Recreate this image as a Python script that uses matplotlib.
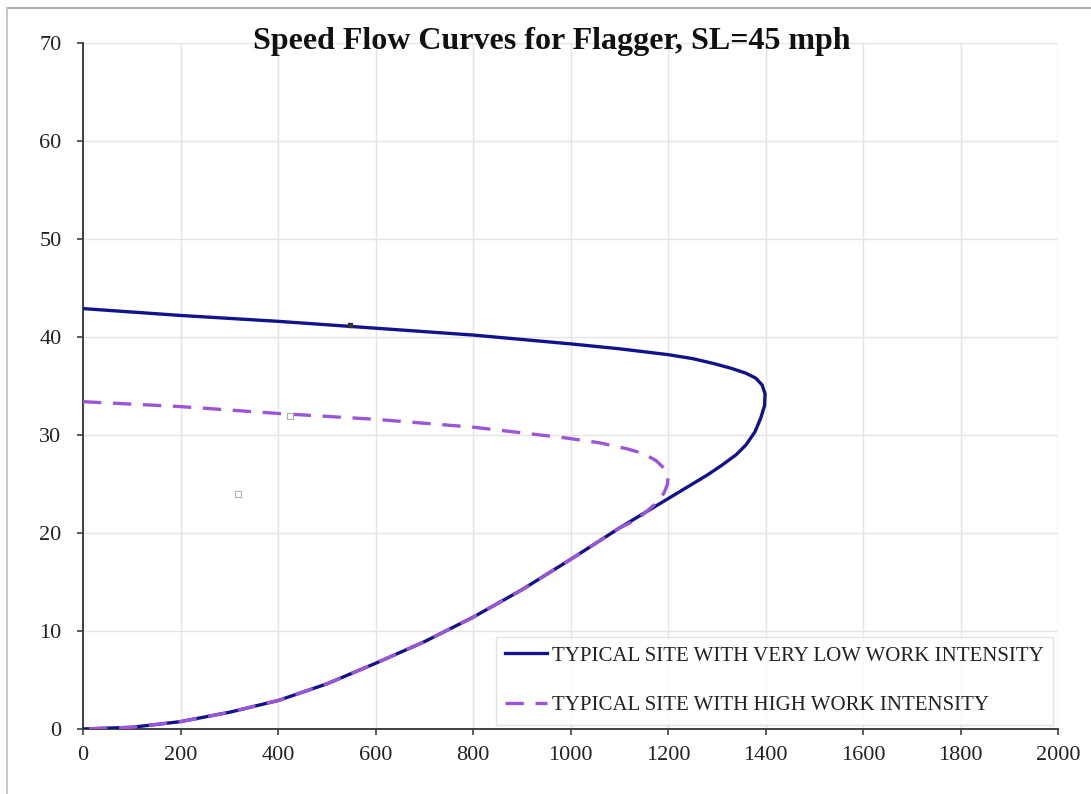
import matplotlib
matplotlib.use('Agg')
from matplotlib import pyplot as plt
from matplotlib.lines import Line2D

# flow (veh/h/ln) and speed (mph), read along each curve from free-flow end,
# around the capacity nose and back down the congested branch
low_flow = [0, 200, 400, 600, 800, 1000, 1100, 1200, 1250, 1293, 1330, 1360, 1380,
            1393, 1399, 1398, 1390, 1378, 1360, 1340, 1310, 1280, 1250, 1200, 1150,
            1100, 1047, 1000, 900, 800, 700, 600, 500, 400, 300, 200, 100, 0]
low_speed = [42.9, 42.2, 41.6, 40.9, 40.2, 39.3, 38.8, 38.2, 37.8, 37.3, 36.8, 36.3, 35.8,
             35.1, 34.2, 33.0, 31.7, 30.3, 29.0, 28.0, 26.9, 25.9, 25.0, 23.5, 22.0,
             20.5, 18.8, 17.3, 14.2, 11.4, 8.9, 6.7, 4.6, 2.9, 1.7, 0.75, 0.17, 0]

high_flow = [0, 200, 400, 600, 800, 990, 1060, 1115, 1150, 1175, 1192, 1200, 1199, 1192,
             1177, 1149, 1129, 1100, 1047, 1000, 900, 800, 700, 600, 500, 400, 300, 200, 100, 0]
high_speed = [33.4, 32.9, 32.2, 31.6, 30.8, 29.7, 29.2, 28.6, 28.1, 27.4, 26.6, 25.7, 25.0, 24.1,
              23.1, 21.9, 21.2, 20.5, 18.8, 17.3, 14.2, 11.4, 8.9, 6.7, 4.6, 2.9, 1.7, 0.75, 0.17, 0]

# leftover point markers sitting on the plot
marker_flow = [547, 425, 318]
marker_speed = [41.2, 31.9, 24.0]

x_ticks = [0, 200, 400, 600, 800, 1000, 1200, 1400, 1600, 1800, 2000]
y_ticks = [0, 10, 20, 30, 40, 50, 60, 70]

plt.rcParams['font.family'] = ['Liberation Serif', 'DejaVu Serif']

figure = plt.figure(figsize=(10.91, 7.94), dpi=100)
ax = figure.add_axes([0.0761, 0.0819, 0.8937, 0.8639])

ax.plot(low_flow, low_speed, color='#12128c', linewidth=2.4,
        label='TYPICAL SITE WITH VERY LOW WORK INTENSITY', zorder=3)
ax.plot(high_flow, high_speed, color='#9a56d6', linewidth=2.4,
        dashes=(5.5, 3.5), label='TYPICAL SITE WITH HIGH WORK INTENSITY', zorder=4)
ax.scatter(marker_flow[:1], marker_speed[:1], s=10, marker='s',
           color='#333333', zorder=5)
ax.scatter(marker_flow[1:], marker_speed[1:], s=22, marker='s',
           facecolor='white', edgecolor='#b0b0b0', linewidth=0.8, zorder=5)

ax.set_xlim(0, 2000)
ax.set_ylim(0, 70)
ax.set_xticks(x_ticks)
ax.set_yticks(y_ticks)
ax.grid(color='#e4e4e4', linewidth=1)
ax.set_axisbelow(True)
for side in ['top', 'right']:
    ax.spines[side].set_visible(False)
for side in ['left', 'bottom']:
    ax.spines[side].set_color('#404040')
    ax.spines[side].set_linewidth(1.4)
ax.tick_params(axis='y', length=4.5, width=1.2, color='#404040', pad=11,
               labelsize=16, labelcolor='#222222')
ax.tick_params(axis='x', length=4, width=1.2, color='#404040', pad=8,
               labelsize=16, labelcolor='#222222')

figure.text(0.506, 0.948, 'Speed Flow Curves for Flagger, SL=45 mph',
            ha='center', va='center', fontsize=23, fontweight='bold',
            color='#111111')

legend = ax.legend(loc='lower right', bbox_to_anchor=(0.997, 0.003),
                   fontsize=15, frameon=True, fancybox=False,
                   handlelength=2.0, handletextpad=0.25, labelspacing=1.45,
                   borderpad=0.45, borderaxespad=0.1)
legend.get_frame().set_edgecolor('#dddddd')
legend.get_frame().set_linewidth(1)
for text in legend.get_texts():
    text.set_color('#222222')

# outer chart frame, cut off at the right and bottom edges
figure.add_artist(Line2D([7 / 1091, 1], [1 - 8 / 794, 1 - 8 / 794],
                         transform=figure.transFigure, color='#a0a0a0', linewidth=1.2))
figure.add_artist(Line2D([7 / 1091, 7 / 1091], [0, 1 - 8 / 794],
                         transform=figure.transFigure, color='#c0c0c0', linewidth=1.2))

plt.savefig('out.png', dpi=100)
plt.close('all')
